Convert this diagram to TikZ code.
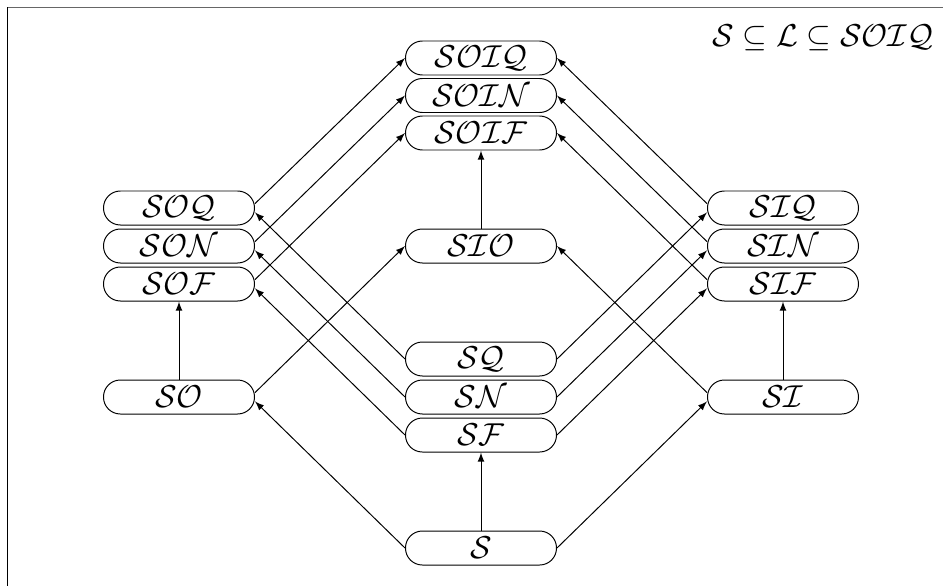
\documentclass[tikz,border=0pt]{standalone}
\usepackage{amsmath}
\usepackage{tikz}
\usetikzlibrary{positioning}

\begin{document}
\begin{tikzpicture}[
      line width=0.45pt,
      block/.style={rectangle, draw, minimum width=2.416cm, minimum height=0.544cm, inner sep=0pt, rounded corners=0.27cm, font=\Large},
      line/.style={draw, -latex}
    ]

    \useasboundingbox (-7.696,-0.608) rectangle (7.392,8.768);
    \draw [black!60] (-7.568,8.656) -- (7.392,8.656);
    \draw (-7.568,8.656) -- (-7.568,-0.608);

    \node [block] (S) {$\mathcal{S}$};
    \node [block, above of=S, node distance=1.808cm] (SF) {$\mathcal{SF}$};
    \node [block, above of=SF, node distance=0.608cm] (SN) {$\mathcal{SN}$};
    \node [block, above of=SN, node distance=0.608cm] (SQ) {$\mathcal{SQ}$};
    \node [block, left of=SN, node distance=4.832cm] (SO) {$\mathcal{SO}$};
    \node [block, right of=SN, node distance=4.832cm] (SI) {$\mathcal{SI}$};
    \node [block, above of=SO, node distance=1.808cm] (SOF) {$\mathcal{SOF}$};
    \node [block, above of=SOF, node distance=0.608cm] (SON) {$\mathcal{SON}$};
    \node [block, above of=SON, node distance=0.608cm] (SOQ) {$\mathcal{SOQ}$};
    \node [block, above of=SI, node distance=1.808cm] (SIF) {$\mathcal{SIF}$};
    \node [block, above of=SIF, node distance=0.608cm] (SIN) {$\mathcal{SIN}$};
    \node [block, above of=SIN, node distance=0.608cm] (SIQ) {$\mathcal{SIQ}$};
    \node [block, above of=SQ, node distance=1.808cm] (SIO) {$\mathcal{SIO}$};
    \node [block, above of=SIO, node distance=1.808cm] (SOIF) {$\mathcal{SOIF}$};
    \node [block, above of=SOIF, node distance=0.6cm] (SOIN) {$\mathcal{SOIN}$};
    \node [block, above of=SOIN, node distance=0.6cm] (SOIQ) {$\mathcal{SOIQ}$};

    \node [font=\Large] (incl) at (5.472,8.16) {$\mathcal{S} \subseteq \mathcal{L} \subseteq \mathcal{SOIQ}$};

    \path [line] (S) -- (SF);
    \path [line] (S.west) -- ([yshift=-2pt]SO.east);
    \path [line] (S.east) -- ([yshift=-2pt]SI.west);
    \path [line] (SO) -- (SOF);
    \path [line] (SI) -- (SIF);
    \path [line] ([yshift=2pt]SO.east) -- (SIO.west);
    \path [line] ([yshift=2pt]SI.west) -- (SIO.east);
    \path [line] (SIO) -- (SOIF);

    \path [line] (SQ.west) -- ([yshift=-2pt]SOQ.east);
    \path [line] (SN.west) -- ([yshift=-2pt]SON.east);
    \path [line] (SF.west) -- ([yshift=-2pt]SOF.east);
    \path [line] (SQ.east) -- ([yshift=-2pt]SIQ.west);
    \path [line] (SN.east) -- ([yshift=-2pt]SIN.west);
    \path [line] (SF.east) -- ([yshift=-2pt]SIF.west);

    \path [line] ([yshift=2pt]SOQ.east) -- (SOIQ.west);
    \path [line] ([yshift=2pt]SON.east) -- (SOIN.west);
    \path [line] ([yshift=2pt]SOF.east) -- (SOIF.west);
    \path [line] ([yshift=2pt]SIQ.west) -- (SOIQ.east);
    \path [line] ([yshift=2pt]SIN.west) -- (SOIN.east);
    \path [line] ([yshift=2pt]SIF.west) -- (SOIF.east);

    \end{tikzpicture}
\end{document}
